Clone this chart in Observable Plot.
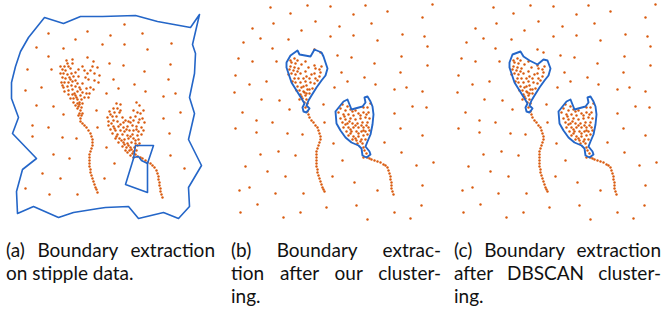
<!DOCTYPE html>
<html><head><meta charset="utf-8">
<script src="https://cdn.jsdelivr.net/npm/d3@7"></script>
<script src="https://cdn.jsdelivr.net/npm/@observablehq/plot@0.6"></script>
<style>
body{margin:0;background:#fff;width:669px;height:313px;overflow:hidden;position:relative;font-family:Lato,"Open Sans",sans-serif}
.panel{position:absolute;top:0}
.cap{position:absolute;top:238px;font-size:19px;line-height:23px;color:#111}
.cap div{white-space:nowrap}
.j{text-align:justify;text-align-last:justify}
</style></head><body>
<div id="pa" class="panel" style="left:0"></div>
<div id="pb" class="panel" style="left:223px"></div>
<div id="pc" class="panel" style="left:446px"></div>
<div class="cap" style="left:6px;width:209px"><div class="j">(a) Boundary extraction</div><div>on stipple data.</div></div>
<div class="cap" style="left:231px;width:210px"><div class="j">(b) Boundary extrac-</div><div class="j">tion after our cluster-</div><div>ing.</div></div>
<div class="cap" style="left:454px;width:207px"><div class="j">(c) Boundary extraction</div><div class="j">after DBSCAN cluster-</div><div>ing.</div></div>
<script>
// ---- Panel (a): stipple data ----
const aBackground = [[124,24],[48,33],[87,31],[142,33],[75,39],[110,35],[171,43],[36,47],[63,48],[102,44],[124,44],[147,49],[48,56],[27,69],[51,69],[109,63],[123,65],[170,64],[144,71],[113,79],[168,79],[25,90],[41,87],[118,88],[134,84],[145,91],[106,93],[163,96],[175,93],[36,105],[53,106],[96,110],[180,112],[63,114],[163,118],[32,125],[48,127],[97,127],[32,136],[62,137],[76,138],[169,133],[106,147],[53,154],[69,158],[170,155],[114,163],[184,168],[42,173],[60,178],[104,178],[25,188],[49,194],[77,194]];
const aHeart1 = [[87,57],[93,61],[72,59],[72,63],[67,63],[64,66],[68,66],[82,66],[92,66],[97,67],[62,69],[65,70],[70,68],[78,69],[60,73],[63,73],[67,74],[71,73],[87,73],[94,73],[99,75],[62,77],[65,78],[69,77],[73,76],[78,76],[88,79],[94,80],[61,82],[64,82],[68,82],[72,81],[77,83],[82,83],[98,82],[63,87],[67,86],[71,85],[75,86],[79,87],[86,88],[90,87],[93,89],[64,91],[68,90],[72,89],[77,91],[82,92],[86,93],[89,93],[68,94],[72,94],[75,95],[80,95],[84,97],[88,97],[70,98],[73,98],[77,99],[81,99],[73,102],[77,103],[79,102],[82,103],[75,105],[78,106],[81,107],[77,108],[80,110],[79,113],[82,113],[78,115],[81,115],[80,118],[66,60],[60,66],[75,72],[84,70],[90,70],[62,85],[70,79],[75,80],[85,77],[80,89],[76,97],[79,104],[74,93]];
const aHeart2 = [[116,103],[120,104],[136,102],[139,105],[113,108],[117,108],[133,110],[143,110],[109,111],[114,112],[119,112],[137,112],[107,117],[112,116],[116,116],[122,117],[130,117],[135,116],[142,118],[108,121],[113,120],[117,121],[123,122],[128,121],[133,120],[138,122],[144,122],[108,125],[113,126],[118,126],[123,127],[127,126],[132,125],[136,126],[141,127],[110,129],[115,130],[120,130],[124,131],[129,130],[133,130],[138,131],[143,130],[112,133],[117,134],[122,134],[127,135],[132,134],[137,135],[141,134],[115,138],[119,138],[124,139],[128,138],[133,138],[138,139],[118,142],[123,142],[127,143],[131,142],[135,143],[139,143],[122,146],[126,147],[130,147],[134,147],[125,150],[129,150],[133,151],[132,153],[135,154],[133,157],[137,156],[110,114],[120,110],[125,120],[140,113],[111,123],[120,124],[130,122],[139,119],[114,128],[126,129],[136,129],[116,136],[130,136],[121,140],[135,140],[124,144],[137,145],[128,145],[131,149],[127,152],[136,150],[130,155]];
const aTail1 = [[80,121],[82,123],[84,125],[86,127],[88,130],[90,133],[91,136],[92,139],[92,142],[92,145],[91,148],[90,151],[89,154],[89,157],[89,160],[89,163],[89,166],[90,169],[90,172],[91,175],[92,178],[93,181],[94,184],[95,187],[96,189],[97,192]];
const aTail2 = [[140,157],[142,158],[145,160],[147,162],[150,163],[152,165],[154,167],[156,170],[157,173],[158,176],[158,179],[159,182],[159,185],[160,188],[160,191],[161,194],[162,197]];
const aBoundary = [[44,17],[63,23],[80,16],[102,16],[135,15],[157,21],[190,27],[199,14],[192,44],[195,53],[194,73],[189,97],[194,113],[188,139],[201,165],[188,187],[189,206],[178,218],[163,212],[138,218],[128,206],[105,207],[98,208],[73,212],[58,217],[33,206],[17,213],[16,191],[22,169],[36,158],[12,133],[18,117],[11,98],[11,82],[15,66],[20,51],[28,37],[44,17]];
const aBowtie = [[135,145],[153,145],[147,163],[147,192],[125,184],[133,158],[135,145]];
const aBowtieInner = [[133,157],[138,156],[141,160],[147,163]];

// ---- Panels (b) and (c): same stipple data ----
const bBackground = [[270,7],[307,5],[330,6],[365,5],[387,11],[432,4],[290,13],[353,14],[422,17],[273,23],[315,21],[339,26],[371,23],[252,28],[301,30],[330,36],[353,35],[402,34],[424,36],[243,42],[260,38],[288,39],[377,40],[272,48],[427,46],[337,55],[351,57],[401,56],[238,58],[252,61],[276,61],[374,63],[427,65],[341,72],[400,72],[235,75],[266,81],[347,81],[364,77],[249,84],[375,84],[334,87],[406,87],[234,92],[394,89],[422,91],[261,99],[279,100],[323,104],[412,106],[426,107],[242,112],[289,109],[394,113],[256,120],[272,122],[324,122],[235,128],[256,132],[287,133],[302,134],[400,128],[422,135],[333,143],[384,142],[260,154],[278,151],[295,155],[401,152],[342,160],[433,162],[245,166],[416,165],[267,171],[285,176],[332,176],[354,182],[239,190],[249,187],[275,193],[303,193],[377,190],[422,185],[257,204],[326,207],[356,205],[240,212],[283,217],[300,212],[394,212],[367,219],[410,218],[421,205]];
const bHeart1 = [[294,58],[297,60],[305,61],[291,62],[295,63],[290,66],[294,67],[298,68],[289,69],[293,70],[297,71],[314,65],[319,69],[291,73],[295,74],[300,73],[305,71],[294,78],[298,78],[303,78],[314,73],[319,76],[295,82],[300,82],[305,81],[309,78],[297,86],[301,87],[306,85],[314,83],[317,80],[299,90],[303,91],[307,89],[312,88],[300,94],[305,95],[309,93],[302,98],[306,99],[304,102],[307,103],[305,107],[314,49],[320,52],[290,60],[301,64],[288,74],[292,81],[303,86],[310,82],[315,68],[321,66],[320,72],[311,74],[308,67],[304,92],[301,96],[309,89],[306,93],[296,90],[299,99],[315,78],[306,76]];
const bHeart2 = [[342,104],[347,106],[340,108],[345,110],[350,109],[355,110],[363,107],[367,107],[370,103],[338,112],[343,114],[348,114],[353,115],[358,113],[363,112],[368,112],[340,118],[345,119],[350,118],[355,119],[360,118],[365,117],[369,118],[342,122],[347,123],[352,123],[357,123],[362,122],[367,122],[343,127],[348,127],[353,127],[358,127],[363,127],[368,127],[346,131],[351,131],[356,131],[361,131],[365,131],[369,130],[348,135],[353,136],[358,136],[363,135],[367,134],[352,139],[356,140],[361,139],[365,139],[357,143],[362,143],[363,147],[364,150],[366,153],[367,157],[363,157],[344,116],[352,111],[360,115],[366,114],[349,121],[355,125],[361,125],[366,125],[350,129],[358,133],[363,130],[355,138],[360,141],[350,133],[345,124]];
const bTail1 = [[307,111],[308,114],[309,117],[311,120],[313,122],[315,125],[317,127],[318,130],[319,133],[320,136],[320,139],[319,142],[318,145],[317,148],[316,151],[316,154],[316,157],[316,160],[316,163],[316,166],[317,169],[317,172],[318,175],[319,178],[320,181],[321,184],[322,187],[323,189],[324,191]];
const bTail2 = [[369,158],[371,159],[374,160],[377,161],[380,162],[383,164],[385,165],[387,167],[388,170],[389,173],[390,176],[390,179],[391,182],[391,185],[391,188],[392,191],[393,194]];
const bBoundary1 = [[286,62],[290,55],[297,50],[299,54],[310,56],[314,49],[321,52],[323,56],[327,68],[325,75],[321,80],[316,87],[311,95],[308,100],[306,105],[309,108],[306,112],[303,111],[302,107],[304,103],[301,98],[296,90],[291,82],[288,73],[286,67],[286,62]];
const bBoundary2 = [[335,111],[343,101],[347,99],[349,104],[351,109],[362,106],[365,102],[364,97],[367,96],[370,101],[372,106],[373,114],[372,124],[370,134],[367,141],[365,146],[369,151],[370,154],[366,157],[362,155],[361,148],[358,145],[351,142],[345,137],[340,130],[336,123],[335,111]];
const cBoundary1 = [[286,62],[289,54],[297,51],[300,56],[306,60],[314,64],[320,59],[324,60],[327,68],[325,75],[321,80],[316,87],[311,95],[308,100],[306,105],[309,108],[306,112],[303,111],[302,107],[304,103],[301,98],[296,90],[291,82],[288,73],[286,67],[286,62]];
const cBoundary2 = bBoundary2;

const ORANGE = "#d95b0f", BLUE = "#2466c8";

function panel(xdom, dots, lines, sw) {
  return Plot.plot({
    width: 223, height: 225, margin: 0,
    x: {domain: xdom, range: [0, 223], axis: null},
    y: {domain: [0, 225], range: [0, 225], axis: null},
    marks: [
      Plot.dot(dots, {x: d => d[0], y: d => d[1], r: 1.2, fill: ORANGE, stroke: "none"}),
      ...lines.map(l => Plot.line(l, {x: d => d[0], y: d => d[1], stroke: BLUE, strokeWidth: sw, strokeLinejoin: "round", curve: "linear"}))
    ]
  });
}
const aDots = [...aBackground, ...aHeart1, ...aHeart2, ...aTail1, ...aTail2];
const bDots = [...bBackground, ...bHeart1, ...bHeart2, ...bTail1, ...bTail2];
document.getElementById("pa").append(panel([0, 223], aDots, [aBoundary, aBowtie, aBowtieInner], 1.6));
document.getElementById("pb").append(panel([223, 446], bDots, [bBoundary1, bBoundary2], 1.9));
document.getElementById("pc").append(panel([223, 446], bDots, [cBoundary1, cBoundary2], 1.9));
</script>
</body></html>
